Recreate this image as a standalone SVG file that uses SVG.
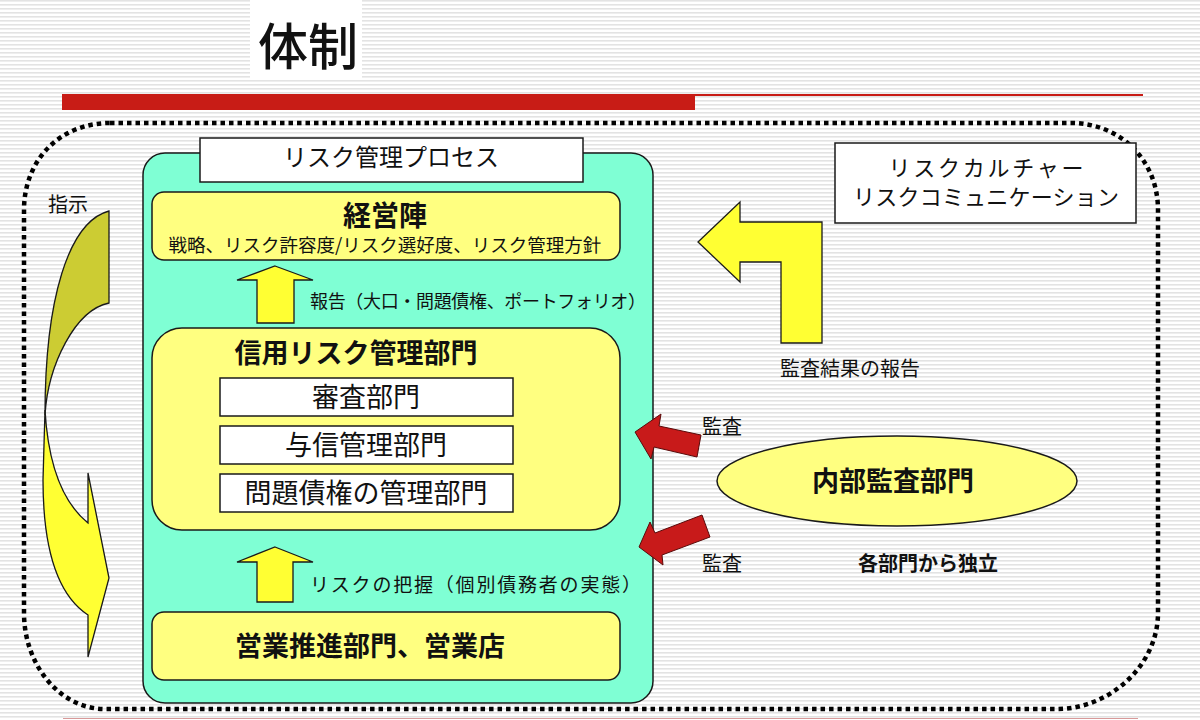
<svg xmlns="http://www.w3.org/2000/svg" width="1200" height="720" viewBox="0 0 1200 720">
  <defs>
    <pattern id="stripes" width="4" height="4" patternUnits="userSpaceOnUse">
      <rect width="4" height="4" fill="#ffffff"/>
      <rect y="0" width="4" height="1.6" fill="#e3e3e3"/>
    </pattern>
  </defs>
  <style>
    text { font-family: "Noto Sans CJK JP", "Noto Sans", sans-serif; fill: #111; }
    .b { font-weight: 700; }
    .box { stroke: #1a1a1a; stroke-width: 1.5; }
    .ylw { fill: #ffff80; }
    .wht { fill: #ffffff; }
    .arrowY { fill: #ffff33; stroke: #1a1a1a; stroke-width: 1.3; stroke-linejoin: miter; }
    .arrowR { fill: #c81a1a; stroke: #5a0a0a; stroke-width: 1; }
    .mid { text-anchor: middle; }
  </style>

  <!-- background -->
  <rect width="1200" height="720" fill="url(#stripes)"/>
  <rect x="250" y="0" width="112" height="80" fill="#ffffff"/>

  <!-- title and header bars -->
  <g id="title">
    <text x="258" y="65" font-size="50" font-weight="500">体制</text>
    <rect x="62" y="94" width="633" height="16" fill="#c81c16"/>
    <rect x="695" y="94" width="448" height="2" fill="#c81c16"/>
    <rect x="63" y="718" width="1075" height="1" fill="#d89a9a"/>
  </g>

  <!-- dotted boundary -->
  <path id="boundary" d="M110,123 L1071,123 C1120,123 1158,160 1158,210 L1158,613 C1158,665 1110,709 1057,709 L105,709 C60,709 24,665 24,613 L24,210 C24,160 60,123 110,123 Z" fill="none" stroke="#000" stroke-width="4.5" stroke-dasharray="4.5 4"/>

  <!-- risk management process container -->
  <g id="process">
    <rect class="box" x="143" y="153" width="510" height="550" rx="22" fill="#7fffd4"/>
    <rect class="box wht" x="200" y="138" width="383" height="44"/>
    <text class="mid" x="391" y="166" font-size="24">リスク管理プロセス</text>
  </g>

  <g id="management">
    <rect class="box ylw" x="152" y="192" width="468" height="68" rx="12"/>
    <text class="b mid" x="385" y="226" font-size="28">経営陣</text>
    <text class="mid" x="385" y="252" font-size="18.5">戦略、リスク許容度/リスク選好度、リスク管理方針</text>
  </g>

  <g id="credit-risk">
    <rect class="box ylw" x="152" y="328" width="468" height="202" rx="30"/>
    <text class="b mid" x="356" y="363" font-size="27">信用リスク管理部門</text>
  </g>

  <g id="screening">
    <rect class="box wht" x="220" y="378" width="293" height="38"/>
    <text class="mid" x="366" y="407" font-size="27">審査部門</text>
  </g>
  <g id="credit-mgmt">
    <rect class="box wht" x="220" y="426" width="293" height="38"/>
    <text class="mid" x="366" y="455" font-size="27">与信管理部門</text>
  </g>
  <g id="problem-loans">
    <rect class="box wht" x="220" y="474" width="293" height="38"/>
    <text class="mid" x="366" y="503" font-size="27">問題債権の管理部門</text>
  </g>

  <g id="sales">
    <rect class="box ylw" x="152" y="612" width="468" height="68" rx="12"/>
    <text class="b mid" x="370" y="656" font-size="27">営業推進部門、営業店</text>
  </g>

  <g id="culture">
    <rect class="box wht" x="835" y="143" width="301" height="80"/>
    <text class="mid" x="986" y="176" font-size="22" textLength="195" lengthAdjust="spacing">リスクカルチャー</text>
    <text class="mid" x="986" y="205" font-size="22" textLength="266" lengthAdjust="spacing">リスクコミュニケーション</text>
  </g>

  <g id="internal-audit">
    <ellipse class="box ylw" cx="897" cy="481" rx="180" ry="45"/>
    <text class="b mid" x="893" y="491" font-size="27">内部監査部門</text>
    <text class="b" x="858" y="571" font-size="20">各部門から独立</text>
  </g>

  <!-- connectors -->
  <g id="connectors">
    <!-- instruction curved arrow -->
    <path d="M109,211 L109,303 C75,310 48,365 45,415 C45,300 68,222 109,211 Z" fill="#cccc33" stroke="#1a1a1a" stroke-width="1.3"/>
    <path d="M45,410 C48,462 62,502 88,523 L88,473 L109,578 L88,657 L88,615 C62,598 43,560 43,480 Z" fill="#ffff33" stroke="#1a1a1a" stroke-width="1.3" stroke-linejoin="miter"/>
    <text x="48" y="212" font-size="20">指示</text>

    <!-- report up arrow -->
    <path class="arrowY" d="M275,266 L313,280 L294,280 L294,323 L257,323 L257,280 L237,280 Z"/>
    <text x="310" y="308" font-size="18" textLength="336" lengthAdjust="spacing">報告（大口・問題債権、ポートフォリオ）</text>

    <!-- risk grasp up arrow -->
    <path class="arrowY" d="M275,547 L313,562 L293,562 L293,602 L257,602 L257,562 L237,562 Z"/>
    <text x="310" y="592" font-size="19" textLength="331" lengthAdjust="spacing">リスクの把握（個別債務者の実態）</text>

    <!-- audit result report L arrow -->
    <path class="arrowY" d="M698,242 L740,202 L740,222 L822,222 L822,343 L781,343 L781,262 L740,262 L740,282 Z"/>
    <text x="780" y="376" font-size="20">監査結果の報告</text>

    <!-- audit red arrows -->
    <path class="arrowR" d="M635,432 L661,414 L659,426 L701,435 L697,457 L654,447 L651,459 Z"/>
    <text x="702" y="434" font-size="20">監査</text>
    <path class="arrowR" d="M639,547 L650,522 L655,533 L702,515 L710,537 L662,555 L663,565 Z"/>
    <text x="702" y="571" font-size="20">監査</text>
  </g>
</svg>
